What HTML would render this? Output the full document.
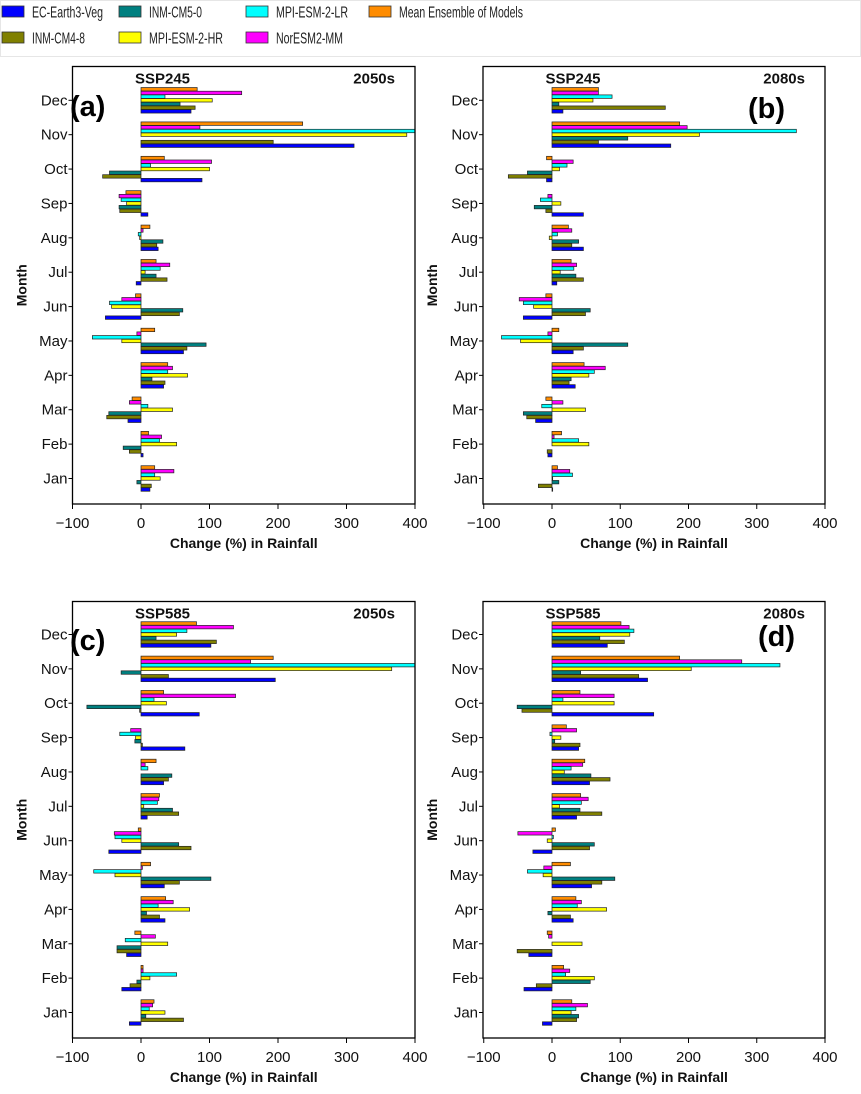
<!DOCTYPE html>
<html><head><meta charset="utf-8">
<style>
body{margin:0;background:#fff;width:861px;height:1089px;overflow:hidden;font-family:"Liberation Sans",sans-serif;}
svg text{font-family:"Liberation Sans",sans-serif;}
</style></head>
<body>
<svg id="chart" width="861" height="1089" viewBox="0 0 861 1089" xmlns="http://www.w3.org/2000/svg">
<rect x="0" y="0" width="861" height="1089" fill="#fff"/>
<g id="legend">
<rect x="0.5" y="0.5" width="860" height="56" fill="#fff" stroke="#e6e6e6"/>
</g>
</svg>
<script>
const months = ["Jan","Feb","Mar","Apr","May","Jun","Jul","Aug","Sep","Oct","Nov","Dec"];
const xTicks = [-100,0,100,200,300,400];
const seriesNames = ["Mean Ensemble of Models","NorESM2-MM","MPI-ESM-2-LR","MPI-ESM-2-HR","INM-CM5-0","INM-CM4-8","EC-Earth3-Veg"];
const seriesColors = ["#ff8c00","#ff00ff","#00ffff","#ffff00","#008080","#808000","#0000ff"];
const panelScenarios = ["SSP245","SSP245","SSP585","SSP585"];
const panelPeriods = ["2050s","2080s","2050s","2080s"];
const panelLetters = ["(a)","(b)","(c)","(d)"];

const aMean = [20,11,-13,39,20,-8,22,13,-22,34,236,82];
const aNor  = [48,30,-17,46,-6,-28,42,3,-32,103,86,147];
const aLR   = [20,27,10,39,-71,-46,28,-4,-29,14,400,35];
const aHR   = [28,52,46,68,-28,-43,6,-2,-21,100,388,104];
const aCM5  = [-6,-26,-47,16,95,61,22,32,-32,-46,0,57];
const aCM4  = [15,-17,-50,35,67,56,38,23,-31,-56,193,79];
const aEC   = [13,3,-19,33,62,-52,-7,25,10,89,311,73];

const bMean = [8,14,-9,47,10,-9,28,24,0,-8,187,68];
const bNor  = [26,3,16,78,-6,-48,36,29,-6,31,198,68];
const bLR   = [30,39,-15,62,-74,-42,32,8,-17,22,358,88];
const bHR   = [1,54,49,54,-46,-27,12,-4,13,11,216,60];
const bCM5  = [10,0,-42,28,111,56,35,39,-26,-36,111,10];
const bCM4  = [-20,-7,-37,25,46,49,46,29,-9,-64,68,166];
const bEC   = [1,-6,-24,34,31,-42,7,46,46,-8,174,16];

const cMean = [19,3,-9,36,14,-4,27,22,0,33,193,81];
const cNor  = [17,3,21,47,2,-39,26,6,-15,138,160,135];
const cLR   = [12,52,-23,25,-69,-38,24,10,-31,19,400,67];
const cHR   = [35,13,39,71,-38,-28,4,0,-8,37,366,52];
const cCM5  = [7,-6,-35,8,102,55,46,45,-9,-79,-29,22];
const cCM4  = [62,-16,-35,27,56,73,55,40,2,-2,40,110];
const cEC   = [-17,-28,-21,35,34,-47,9,33,64,85,196,102];

const dMean = [29,17,-7,35,27,5,42,48,21,41,187,101];
const dNor  = [52,26,-5,43,-12,-50,53,45,36,91,278,113];
const dLR   = [35,20,0,37,-36,2,43,28,-3,16,334,120];
const dHR   = [28,62,44,80,-13,-7,11,18,13,91,204,114];
const dCM5  = [39,56,0,-6,92,62,41,57,4,-51,42,70];
const dCM4  = [36,-23,-51,27,73,55,73,85,41,-44,127,106];
const dEC   = [-14,-41,-34,31,58,-28,36,55,39,149,140,81];

const panelData = [
  [aMean,aNor,aLR,aHR,aCM5,aCM4,aEC],
  [bMean,bNor,bLR,bHR,bCM5,bCM4,bEC],
  [cMean,cNor,cLR,cHR,cCM5,cCM4,cEC],
  [dMean,dNor,dLR,dHR,dCM5,dCM4,dEC]
];

const NS="http://www.w3.org/2000/svg";
const svg=document.getElementById('chart');
function mk(tag,attrs,parent){const e=document.createElementNS(NS,tag);for(const k in attrs)e.setAttribute(k,attrs[k]);(parent||svg).appendChild(e);return e;}

const legend=document.getElementById('legend');
const legendOrder=[6,4,2,0,5,3,1];
const legLens=[71,53,72,124,53,74,67];
const legX=[2,119,246,369];
legendOrder.forEach((si,i)=>{
  const col=i<4?i:i-4, row=i<4?0:1;
  const g=mk('g',{},legend);
  
  
  mk('rect',{x:legX[col],y:6+row*26,width:22,height:11,fill:seriesColors[si],stroke:'#333','stroke-width':0.8},g);
  const t=mk('text',{x:legX[col]+30,y:17.5+row*26,'font-size':16,fill:'#222',textLength:legLens[i],lengthAdjust:'spacingAndGlyphs'},g);
  t.textContent=seriesNames[si];
});

const panels=[
  {left:72.5,right:415,top:66.5,bottom:504,zero:141,ydec:100.3,yjan:478.5},
  {left:483,right:825,top:66.5,bottom:504,zero:552,ydec:100.3,yjan:478.5},
  {left:72.5,right:415,top:601.5,bottom:1038,zero:141,ydec:634.5,yjan:1012.5},
  {left:483,right:825,top:601.5,bottom:1038,zero:552,ydec:634.5,yjan:1012.5}
];
const letterPos=[[70,116],[748,118],[70,650],[758,646]];

panels.forEach((p,pi)=>{
  const g=mk('g',{});
  
  
  const pxPer=(p.right-p.zero)/400;
  const xs=v=>p.zero+v*pxPer;
  const step=(p.yjan-p.ydec)/11;
  const ys=mi=>p.yjan-mi*step;
  const bh=step*0.1;
  const clip=mk('clipPath',{id:'clip'+pi},g);
  mk('rect',{x:p.left,y:p.top,width:p.right-p.left,height:p.bottom-p.top},clip);
  const bars=mk('g',{'clip-path':'url(#clip'+pi+')'},g);
  
  
  panelData[pi].forEach((arr,si)=>{
    arr.forEach((v,mi)=>{
      const cy=ys(mi)+(si-3)*bh*1.07;
      const x0=Math.min(xs(0),xs(v)), w=Math.abs(xs(v)-xs(0));
      const r=mk('rect',{x:x0,y:cy-bh/2,width:w,height:bh,fill:seriesColors[si],stroke:'#222','stroke-width':0.7},bars);
      
      
    });
  });
  const frame=mk('rect',{x:p.left,y:p.top,width:p.right-p.left,height:p.bottom-p.top,fill:'none',stroke:'#000','stroke-width':1.3},g);
  
  
  months.forEach((m,mi)=>{
    mk('line',{x1:p.left-4,x2:p.left,y1:ys(mi),y2:ys(mi),stroke:'#000'},g);
    const t=mk('text',{x:p.left-5,y:ys(mi)+5,'font-size':15,'text-anchor':'end',fill:'#111'},g);
    t.textContent=m;
    
    
  });
  xTicks.forEach(v=>{
    mk('line',{x1:xs(v),x2:xs(v),y1:p.bottom,y2:p.bottom+5,stroke:'#000'},g);
    const t=mk('text',{x:xs(v),y:p.bottom+24,'font-size':15,'text-anchor':'middle',fill:'#111'},g);
    t.textContent=(v<0?'\u2212'+(-v):v);
    
    
  });
  const xt=mk('text',{x:(p.left+p.right)/2,y:p.bottom+44,'font-size':14,'font-weight':'bold','text-anchor':'middle',fill:'#111'},g);
  xt.textContent='Change (%) in Rainfall';
  
  
  const yt=mk('text',{x:0,y:0,'font-size':14,'font-weight':'bold','text-anchor':'middle',fill:'#111',transform:'translate('+(p.left-46)+','+((p.top+p.bottom)/2)+') rotate(-90)'},g);
  yt.textContent='Month';
  
  
  const sc=mk('text',{x:p.left+90,y:p.top+17,'font-size':15,'font-weight':'bold','text-anchor':'middle',fill:'#111'},g);
  sc.textContent=panelScenarios[pi];
  
  
  const pe=mk('text',{x:p.right-20,y:p.top+17,'font-size':15,'font-weight':'bold','text-anchor':'end',fill:'#111'},g);
  pe.textContent=panelPeriods[pi];
  
  
  const lt=mk('text',{x:letterPos[pi][0],y:letterPos[pi][1],'font-size':29,'font-weight':'bold',fill:'#000'},g);
  lt.textContent=panelLetters[pi];
  
  
});
</script>
</body></html>
